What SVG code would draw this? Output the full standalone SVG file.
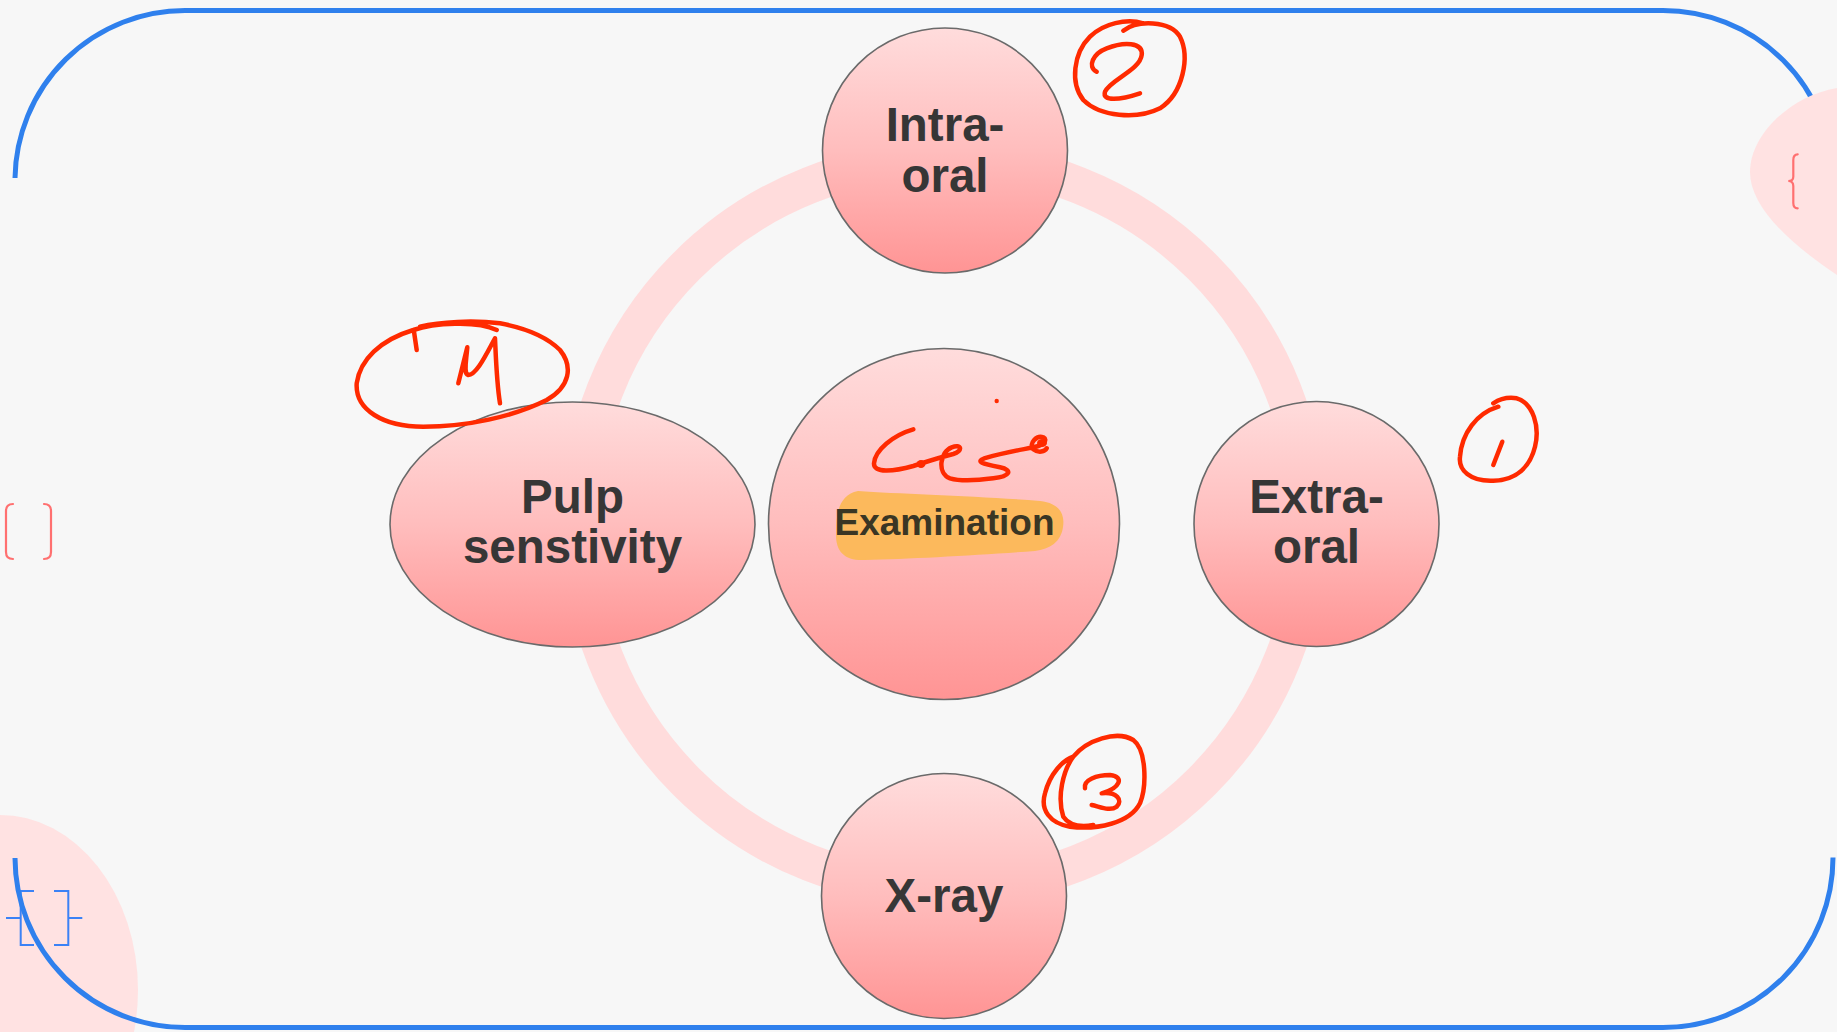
<svg xmlns="http://www.w3.org/2000/svg" width="1837" height="1032" viewBox="0 0 1837 1032">
  <defs>
    <linearGradient id="nodeFill" x1="0" y1="0" x2="0" y2="1">
      <stop offset="0" stop-color="#ffdcdc"/>
      <stop offset="0.5" stop-color="#ffbdbd"/>
      <stop offset="1" stop-color="#ff9494"/>
    </linearGradient>
    <style>
      .node { fill: url(#nodeFill); stroke: #6a6a6a; stroke-width: 1.6; }
      .label { font-family: "Liberation Sans", Arial, sans-serif; font-weight: bold; font-size: 47.5px; fill: #363636; text-anchor: middle; }
      .ink { fill: none; stroke: #ff2a00; stroke-width: 4.5; stroke-linecap: round; stroke-linejoin: round; }
      .frame { fill: none; stroke: #2f80ed; stroke-width: 5; stroke-linecap: butt; }
      .blob { fill: #ffe2e2; }
      .bracket-red { fill: none; stroke: #ff7070; stroke-width: 2.2; stroke-linecap: round; }
      .bracket-blue { fill: none; stroke: #3b82f6; stroke-width: 2; }
    </style>
  </defs>

  <!-- page background -->
  <rect width="1837" height="1032" fill="#f7f7f7"/>

  <!-- decorative corner blob, lower left -->
  <ellipse class="blob" cx="0" cy="990" rx="138" ry="175"/>

  <!-- decorative brackets -->
  <g id="deco-brackets">
    <path class="bracket-red" d="M13,504 Q6,504 6,511 L6,552 Q6,559 13,559"/>
    <path class="bracket-red" d="M44,504 Q51,504 51,511 L51,552 Q51,559 44,559"/>
    <path class="bracket-blue" d="M6,918 L20.7,918 M34,891 L20.7,891 L20.7,945 L34,945"/>
    <path class="bracket-blue" d="M54,891 L68.3,891 L68.3,945 L54,945 M68.3,918 L82.3,918"/>
  </g>

  <!-- rounded frame, top and bottom halves -->
  <path class="frame" d="M15,178 A170,170 0 0 1 185,10.5 L1663,10.5 A170,170 0 0 1 1833,180.5"/>
  <path class="frame" d="M15,858 A170,170 0 0 0 185,1027.5 L1663,1027.5 A170,170 0 0 0 1833,857.5"/>

  <!-- decorative blob, upper right, with brace -->
  <path class="blob" d="M1837,88 C1790,96 1750,135 1750,172 C1750,205 1785,240 1837,275 Z"/>
  <path class="bracket-red" d="M1797.7,154.3 Q1793.3,154.3 1793.3,160 L1793.3,176.7 Q1793.3,181 1788.3,181 Q1793.3,181 1793.3,186 L1793.3,203 Q1793.3,208.3 1797.7,208.3"/>

  <!-- connecting ring -->
  <g id="connectors">
    <circle cx="944" cy="524" r="364.5" fill="none" stroke="#ffdcdc" stroke-width="37"/>
  </g>

  <!-- nodes -->
  <g id="node-center">
    <circle class="node" cx="944" cy="524" r="175.5"/>
    <path d="M858,491 C900,494 980,496 1040,501 C1060,503 1065,515 1063,527 C1061,542 1050,549 1035,551 C980,555 910,559 865,560 C845,561 836,552 836,535 C836,515 838,495 858,491 Z" fill="#fcb95c"/>
    <text class="label" x="944.5" y="535" style="font-size:37px;fill:#3a3624">Examination</text>
  </g>
  <g id="node-intra-oral">
    <circle class="node" cx="945" cy="150.5" r="122.5"/>
    <text class="label" x="945" y="141">Intra-</text>
    <text class="label" x="945" y="192">oral</text>
  </g>
  <g id="node-extra-oral">
    <circle class="node" cx="1316.5" cy="524" r="122.5"/>
    <text class="label" x="1316.5" y="513">Extra-</text>
    <text class="label" x="1316.5" y="563">oral</text>
  </g>
  <g id="node-pulp">
    <ellipse class="node" cx="572.5" cy="524.5" rx="182.5" ry="122.5"/>
    <text class="label" x="572.5" y="513">Pulp</text>
    <text class="label" x="572.5" y="563">senstivity</text>
  </g>
  <g id="node-xray">
    <circle class="node" cx="944" cy="896" r="122.5"/>
    <text class="label" x="944" y="912">X-ray</text>
  </g>

  <!-- handwritten ink -->
  <g id="ink">
    <!-- scribble over the centre -->
    <path class="ink" d="M913.3,429.3 C893.3,435 875,450 874,463.3 C873.3,473.3 893.3,471.7 913.3,466 C926.7,461.7 936.7,458.3 953.3,454 C963.3,451 961.7,443.3 951.7,447.3 C940,451.7 936.7,473.3 950,478.3 C961.7,481.7 980,480 993.3,478.3 C1010,476.7 1013.3,470 1000,467.3 C983.3,464 973.3,461.7 986.7,457.7 C1003.3,452.7 1020,450 1033.3,447.3 C1043.3,445.3 1048.3,440 1043.3,437.3 C1036.7,435 1028.3,443.3 1033.3,449.3 C1038.3,453.3 1045,451.7 1046.7,448.3"/>
    <ellipse cx="921" cy="464" rx="4.5" ry="4" fill="#ff2a00"/>
    <ellipse cx="1042" cy="443" rx="5" ry="4" fill="#ff2a00"/>
    <circle cx="996.7" cy="401" r="2.2" fill="#ff2a00"/>

    <!-- circled 2 -->
    <path class="ink" d="M1123.3,30.7 C1136.7,20 1170,20 1180,36.7 C1190,56.7 1183.3,93.3 1160,108.3 C1136.7,120 1100,116.7 1083.3,100 C1070,83.3 1073.3,53.3 1090,36.7 C1103.3,23.3 1126.7,18.3 1143.3,23.3"/>
    <path class="ink" d="M1096.7,71.7 C1086.7,66.7 1093.3,53.3 1106.7,48.3 C1123.3,41.7 1143.3,41.7 1141.7,55 C1140,70 1110,80 1105,91.7 C1101.7,101.7 1120,100 1140,93.3"/>

    <!-- circled 1 -->
    <path class="ink" d="M1493.3,403.3 C1498.3,400 1506.7,396.7 1516.7,398.3 C1533.3,403.3 1540,426.7 1535,446.7 C1530,466.7 1516.7,480 1493.3,480.7 C1470,481.7 1458.3,470 1460,456.7 C1461.7,433.3 1476.7,413.3 1498.3,406.7"/>
    <path class="ink" d="M1502.3,441.7 L1493.3,465"/>

    <!-- circled 3 -->
    <path class="ink" d="M1073.3,756.7 C1086.7,740 1116.7,730 1133.3,740 C1146.7,750 1146.7,786.7 1140,803.3 C1130,823.3 1096.7,830 1070,826.7 C1050,823.3 1040,810 1045,793.3 C1050,773.3 1063.3,760 1073.3,756.7 C1063.3,770 1056.7,796.7 1063.3,816.7 C1070,826.7 1083.3,826.7 1093.3,825"/>
    <path class="ink" d="M1085,788.3 C1083.3,780 1096.7,775 1110,775 C1125,776.7 1120,788.3 1101.7,793.3 C1116.7,791.7 1123.3,800 1116.7,806.7 C1110,811.7 1100,806.7 1091.7,805"/>

    <!-- circled M -->
    <path class="ink" d="M496.7,330 C476.7,320 433.3,323.3 413.3,330 C380,340 360,360 356.7,383.3 C355,410 383.3,426.7 423.3,426.7 C466.7,426.7 513.3,416.7 546.7,400 C570,386.7 573.3,366.7 560,350 C546.7,336.7 526.7,328.3 500,323.3 C473.3,320 440,321.7 420,326.7"/>
    <path class="ink" d="M414,331.7 L416.7,350"/>
    <path class="ink" d="M458.3,383.3 L467.3,347.3 C466,363.3 463.3,373.3 468.3,375 C476.7,375 486.7,353.3 495,338.3 C496,360 496.7,383.3 500,403.3"/>
  </g>
</svg>
